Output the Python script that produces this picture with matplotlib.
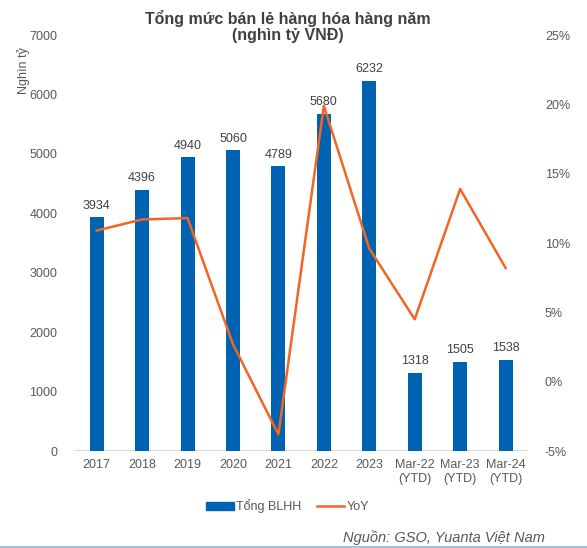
import matplotlib.pyplot as plt
from matplotlib.lines import Line2D
from matplotlib.patches import Patch

plt.rcParams["font.family"] = ["Liberation Sans", "DejaVu Sans"]

nhan = ["2017", "2018", "2019", "2020", "2021", "2022", "2023",
        "Mar-22\n(YTD)", "Mar-23\n(YTD)", "Mar-24\n(YTD)"]
tong_blhh = [3934, 4396, 4940, 5060, 4789, 5680, 6232, 1318, 1505, 1538]
yoy = [10.9, 11.7, 11.8, 2.7, -3.8, 19.9, 9.6, 4.5, 13.9, 8.2]

mau_cot = "#0063B1"
mau_duong = "#F26522"
mau_chu = "#595959"

fig = plt.figure(figsize=(5.87, 5.48), dpi=100)
ax = fig.add_axes([0.126, 0.177, 0.774, 0.759])
ax2 = ax.twinx()

x = list(range(len(nhan)))
ax.bar(x, tong_blhh, width=0.31, color=mau_cot, zorder=2)
for i, v in enumerate(tong_blhh):
    ax.text(i, v + 90, str(v), ha="center", va="bottom", fontsize=9, color="#404040")

ax2.plot(x, yoy, color=mau_duong, linewidth=1.8, zorder=3)

ax.set_xlim(-0.5, len(nhan) - 0.5)
ax.set_ylim(0, 7000)
ax.set_yticks(range(0, 7001, 1000))
ax2.set_ylim(-5, 25)
ax2.set_yticks(range(-5, 26, 5))
ax2.set_yticklabels([f"{t}%" for t in range(-5, 26, 5)])

ax.set_xticks(x)
ax.set_xticklabels(nhan)

for a in (ax, ax2):
    for s in a.spines.values():
        s.set_visible(False)
    a.tick_params(length=0, labelsize=9, colors=mau_chu)
ax.tick_params(axis="y", pad=12)
ax2.tick_params(axis="y", pad=12)
ax.tick_params(axis="x", pad=6)
ax.axhline(0, color="#d9d9d9", linewidth=1.5, zorder=1)

fig.text(24 / 587, 1 - 71 / 548, "Nghìn tỷ", rotation=90, ha="center", va="center",
         fontsize=9, color=mau_chu)

fig.text(0.49, 1 - 10 / 548, "Tổng mức bán lẻ hàng hóa hàng năm\n(nghìn tỷ VNĐ)",
         ha="center", va="top", fontsize=11.5, fontweight="bold", color="#404040",
         linespacing=1.1)

handles = [Patch(color=mau_cot), Line2D([0], [0], color=mau_duong, linewidth=1.8)]
fig.legend(handles, ["Tổng BLHH", "YoY"], loc="center", bbox_to_anchor=(0.49, 1 - 506 / 548),
           ncol=2, frameon=False, fontsize=9, labelcolor=mau_chu, handlelength=2.2,
           handleheight=0.6, handletextpad=0.2, columnspacing=1.2)

fig.text(545 / 587, 1 - 538 / 548, "Nguồn: GSO, Yuanta Việt Nam", ha="right", va="center",
         fontsize=10.5, style="italic", color=mau_chu)
fig.add_artist(Line2D([0, 1], [1 - 547 / 548] * 2, color="#9dc3e6", linewidth=1.5))

fig.savefig("out.png", dpi=100)
